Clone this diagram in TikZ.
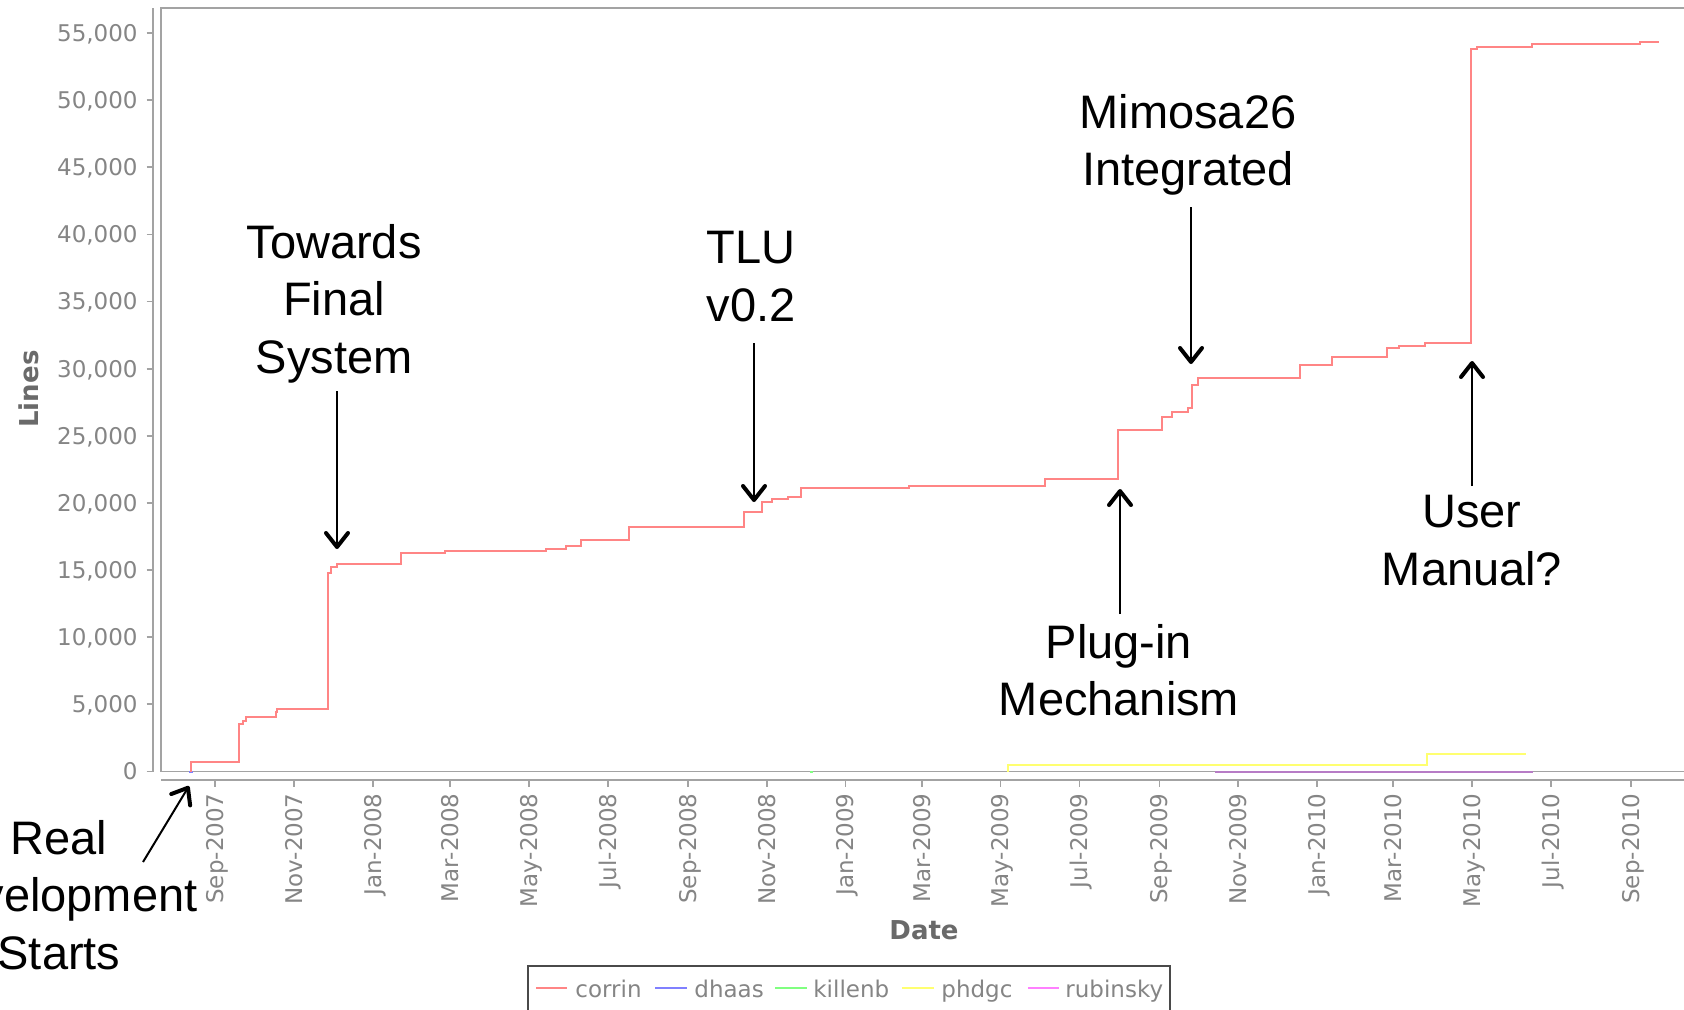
\documentclass[tikz,border=0pt]{standalone}
\usepackage{fontspec}
\setmainfont{Liberation Sans}
\newfontfamily\chartfont{DejaVu Sans}
\usetikzlibrary{arrows.meta}

\definecolor{framegray}{HTML}{A3A3A3}
\definecolor{labelgray}{HTML}{858585}
\definecolor{titlegray}{HTML}{6A6A6A}
\definecolor{legendedge}{HTML}{4A4A4A}
\definecolor{corrinc}{HTML}{FF8585}
\definecolor{dhaasc}{HTML}{8080FF}
\definecolor{killenbc}{HTML}{80FF80}
\definecolor{phdgcc}{HTML}{FFFF70}
\definecolor{rubinskyc}{HTML}{FF80FF}
\definecolor{overlapc}{HTML}{B77CC6}

\begin{document}
\begin{tikzpicture}[x=0.5pt, y=-0.5pt,
  frameline/.style={draw=framegray, line width=0.9pt},
  ticklab/.style={font={\chartfont\fontsize{11.5}{13}\selectfont}, text=labelgray, inner sep=0pt},
  ylab/.style={ticklab, anchor=base east},
  xlab/.style={ticklab, anchor=base east, rotate=90},
  axistitle/.style={font={\chartfont\bfseries\fontsize{13}{15}\selectfont}, text=titlegray, inner sep=0pt},
  series/.style={line width=1pt, line join=miter},
  legendtext/.style={ticklab, anchor=base west},
  legendline/.style={line width=1.4pt},
  callout/.style={font={\fontsize{23.5}{28.75}\selectfont}, align=center, anchor=north, inner sep=0pt},
  pointer/.style={line width=1pt, -{Straight Barb[length=7pt, width=11pt, line width=2pt, round]}}
]
\useasboundingbox (0,0) rectangle (1684,1009);
\fill[white] (0,0) rectangle (1684,1009);

% plot frame and axes
\draw[frameline] (1700,8) -- (161,8) -- (161,771.5) -- (1700,771.5);
\draw[frameline] (152.7,8) -- (152.7,771.5);
\draw[frameline] (161,780) -- (1700,780);

% y axis ticks and labels
\foreach \lab [count=\i from 0] in {0,{5,000},{10,000},{15,000},{20,000},{25,000},{30,000},{35,000},{40,000},{45,000},{50,000},{55,000}} {
  \pgfmathsetmacro{\yy}{771.5-\i*67.136}
  \draw[frameline] (146.5,\yy) -- (152.7,\yy);
  \node[ylab] (yl\i) at (138,\yy+8.4) {\lab};
}

% x axis ticks and labels
\foreach \xx/\lab [count=\i] in {215/Sep-2007, 293.8/Nov-2007, 372.6/Jan-2008, 450.1/Mar-2008,
  529/May-2008, 607.8/Jul-2008, 687.9/Sep-2008, 766.7/Nov-2008, 845.5/Jan-2009,
  921.7/Mar-2009, 1000.5/May-2009, 1079.4/Jul-2009, 1159.5/Sep-2009, 1238.3/Nov-2009,
  1317.1/Jan-2010, 1393.3/Mar-2010, 1472.1/May-2010, 1550.9/Jul-2010, 1631/Sep-2010} {
  \draw[frameline] (\xx,780) -- (\xx,786.5);
  \node[xlab] (xl\i) at (\xx+8.4,793) {\lab};
}

% axis titles
\node[axistitle, rotate=90] (ytitle) at (29,389) {Lines};
\node[axistitle] (xtitle) at (924,930) {Date};

% series: phdgc, rubinsky (over dhaas), killenb
\draw[series, phdgcc] (1008,771.5) -- (1008,765) -- (1427,765) -- (1427,754) -- (1526,754);
\draw[series, overlapc] (1215,771.5) -- (1533,771.5);
\draw[series, dhaasc] (189,771.5) -- (193,771.5);
\draw[series, killenbc] (810,771.5) -- (813,771.5);

% series: corrin
\draw[series, corrinc] (190.7,771.5) -- (190.7,762.3) -- (238.7,762.3) -- (238.7,724) -- (242.7,724)
  -- (242.7,720.7) -- (246,720.7) -- (246,717.3) -- (276,717.3) -- (276,712.3) -- (277.3,712.3)
  -- (277.3,709) -- (327.7,709) -- (327.7,573.3) -- (331,573.3) -- (331,566.7) -- (336.7,566.7)
  -- (336.7,564) -- (401,564) -- (401,553) -- (445,553) -- (445,551) -- (546,551) -- (546,549)
  -- (566,549) -- (566,546) -- (581,546) -- (581,539.5) -- (629,539.5) -- (629,527.3)
  -- (744,527.3) -- (744,511.7) -- (762,511.7) -- (762,501.7) -- (771.7,501.7) -- (771.7,499.3)
  -- (788.3,499.3) -- (788.3,497.3) -- (800.7,497.3) -- (800.7,488.3) -- (909.3,488.3)
  -- (909.3,486.3) -- (1045,486.3) -- (1045,479.3) -- (1118.3,479.3) -- (1118.3,430)
  -- (1161.7,430) -- (1161.7,417.3) -- (1171.7,417.3) -- (1171.7,412.3) -- (1188.3,412.3)
  -- (1188.3,408.3) -- (1191.7,408.3) -- (1191.7,385) -- (1198.3,385) -- (1198.3,378.3)
  -- (1300,378.3) -- (1300,365) -- (1332.3,365) -- (1332.3,356.7) -- (1386.7,356.7)
  -- (1386.7,347.7) -- (1399.3,347.7) -- (1399.3,345.7) -- (1425,345.7) -- (1425,343.3)
  -- (1470.7,343.3) -- (1470.7,49.3) -- (1476.7,49.3) -- (1476.7,46.7) -- (1531.7,46.7)
  -- (1531.7,44.3) -- (1640,44.3) -- (1640,42.3) -- (1659.3,42.3);

% legend
\draw[draw=legendedge, line width=1.2pt] (528,966) rectangle (1170,1040);
\draw[legendline, corrinc] (536,988) -- (567,988);
\node[legendtext] (lg1) at (575,997) {corrin};
\draw[legendline, dhaasc] (655,988) -- (687,988);
\node[legendtext] (lg2) at (694,997) {dhaas};
\draw[legendline, killenbc] (775,988) -- (807,988);
\node[legendtext] (lg3) at (813,997) {killenb};
\draw[legendline, phdgcc] (902,988) -- (934,988);
\node[legendtext] (lg4) at (941,997) {phdgc};
\draw[legendline, rubinskyc] (1028,988) -- (1059,988);
\node[legendtext] (lg5) at (1065,997) {rubinsky};

% milestone callouts
\node[callout] (tfs) at (334,224) {Towards\\Final\\System};
\node[callout] (tlu) at (751,231) {TLU\\v0.2};
\node[callout] (mim) at (1188,94) {Mimosa26\\Integrated};
\node[callout] (plg) at (1119,624) {Plug-in\\Mechanism};
\node[callout] (usr) at (1472,495) {User\\Manual?};
\node[callout] (rds) at (59,820) {Real\\Development\\Starts};

\coordinate (tfsA) at (337,391);   \coordinate (tfsB) at (337,549);
\coordinate (tluA) at (754,343);   \coordinate (tluB) at (754,502);
\coordinate (mimA) at (1191,207);  \coordinate (mimB) at (1191,364);
\coordinate (plgA) at (1120,614);  \coordinate (plgB) at (1120,489);
\coordinate (usrA) at (1472,486);  \coordinate (usrB) at (1472,361);
\coordinate (rdsA) at (143,862);   \coordinate (rdsB) at (189,786);

\draw[pointer] (tfsA) -- (tfsB);
\draw[pointer] (tluA) -- (tluB);
\draw[pointer] (mimA) -- (mimB);
\draw[pointer] (plgA) -- (plgB);
\draw[pointer] (usrA) -- (usrB);
\draw[pointer] (rdsA) -- (rdsB);
\end{tikzpicture}
\end{document}
